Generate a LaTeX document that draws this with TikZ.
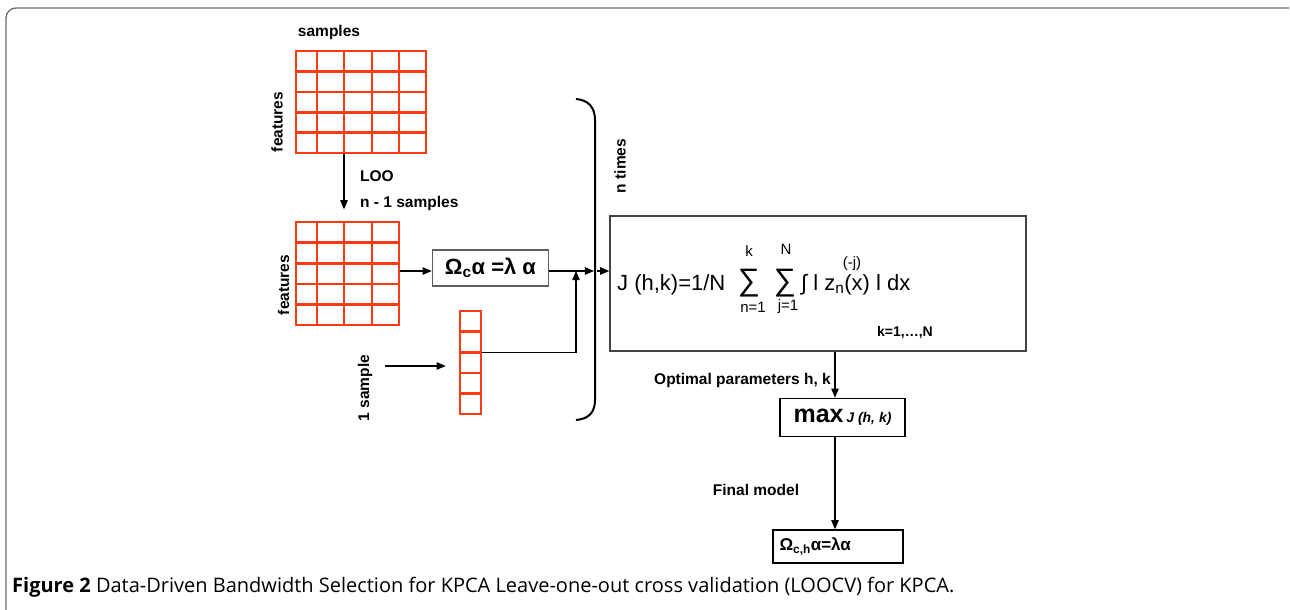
\documentclass[tikz,border=0pt]{standalone}
\usepackage{fontspec}
\setmainfont{Liberation Sans}
\newfontfamily\capfont{Open Sans}
\usetikzlibrary{arrows, positioning}

\definecolor{gridred}{RGB}{250,58,18}
\definecolor{boxgray}{RGB}{95,95,95}
\definecolor{framegray}{RGB}{105,105,105}
\newcommand{\fsize}[1]{\fontsize{#1}{#1}\selectfont}

\begin{document}
\begin{tikzpicture}[x=1pt, y=-1pt]
		\tikzstyle{Cells} = [draw=gridred, line width=2.6pt, inner sep=0pt]
		\tikzstyle{Box} = [rectangle, draw=boxgray, line width=1.5pt, inner sep=0pt]
		\tikzstyle{Label} = [font=\fsize{15.5}\bfseries, inner sep=0pt]
		\tikzstyle{Eq} = [font=\fsize{22}, inner sep=0pt, anchor=base west]
		\tikzstyle{Sum} = [font=\fsize{31}, inner sep=0pt, anchor=base]
		\tikzstyle{Lim} = [font=\fsize{15}, inner sep=0pt]
		\tikzstyle{arrow} = [line width=1.1pt,->,>=triangle 45]

		\useasboundingbox (0,0) rectangle (1290,610);
		\draw [framegray, line width=1.3pt, rounded corners=10pt] (6,612) -- (6,8) -- (1289,8);

		% full data matrix
		\node (data) [Cells, minimum width=130pt, minimum height=102pt] at (361,102) {};
		\foreach \x in {317,344,372,399} \draw [Cells] (\x,51) -- (\x,153);
		\foreach \y in {71.4,91.8,112.2,132.6} \draw [Cells] (296,\y) -- (426,\y);
		\node (samp) [Label] at (329,32) {samples};
		\node (feat1) [Label, rotate=90] at (277,122) {features};

		% n-1 samples
		\node (loo) [Cells, minimum width=103pt, minimum height=103pt] at (347.5,273.5) {};
		\foreach \x in {317,344,372} \draw [Cells] (\x,222) -- (\x,325);
		\foreach \y in {242.6,263.2,283.8,304.4} \draw [Cells] (296,\y) -- (399,\y);
		\node (feat2) [Label, rotate=90] at (283.5,285) {features};
		\node (loolbl) [Label, anchor=west] at (360,176) {LOO};
		\node (nmin) [Label, anchor=west] at (360,203) {n - 1 samples};
		\draw [arrow] ([xshift=-17pt]data.south) -- ++(0,55);

		% left-out sample
		\node (col) [Cells, minimum width=21pt, minimum height=103pt] at (470.5,362.5) {};
		\foreach \y in {331.6,352.2,372.8,393.4} \draw [Cells] (460,\y) -- (481,\y);
		\node (one) [Label, rotate=90] at (365,388) {1 sample};
		\coordinate (s0) at (385,366);
		\draw [arrow, shorten >=13pt] (s0) -- (col.west |- s0);

		\node (omega) [Box, minimum width=116pt, minimum height=36pt, font=\fsize{22}\bfseries] at (490.5,268) {Ω\textsubscript{c}α =λ α};

		\coordinate (row) at (0,271);
		\coordinate (join) at (576,271);
		\coordinate (brace) at (594,271);
		\draw [arrow] (loo.east |- row) -- (omega.west |- row);
		\draw [arrow] (omega.east |- row) -- (brace);
		\draw [arrow] ([yshift=10pt]col.east) -| (join);

		\draw [line width=2pt] (576,99) .. controls (588,100) and (595,107) .. (595,120) -- (595,400) .. controls (595,413) and (588,419) .. (576,420);
		\node (ntimes) [Label, rotate=90] at (620,166) {n times};

		% criterion
		\node (jbox) [Box, draw=boxgray!70!black, minimum width=416pt, minimum height=135pt] at (818,283.5) {};
		\draw [arrow] ([xshift=3pt]brace) -- (jbox.west |- row);
		\node (jhk) [Eq] at (617,290) {J (h,k)=1/N};
		\node (sum1) [Sum] at (749,290) {∑};
		\node (sum1up) [Lim] at (749,251) {k};
		\node (sum1dn) [Lim] at (753,307) {n=1};
		\node (sum2) [Sum] at (785,290) {∑};
		\node (sum2up) [Lim] at (786,249) {N};
		\node (sum2dn) [Lim] at (788,307) {j=1};
		\node (integ) [Eq] at (801,290) {∫ l z\textsubscript{n}(x) l dx};
		\node (loj) [Lim] at (852,264) {(-j)};
		\node (krange) [Label, font=\fsize{14}\bfseries] at (905,333) {k=1,…,N};

		\coordinate (drop) at (835,0);
		\node (max) [Box, draw=black, line width=1.6pt, minimum width=125pt, minimum height=38pt] at (842.5,417.5) {{\fsize{25}\bfseries max} {\fsize{14}\bfseries\itshape J (h, k)}};
		\node (final) [Box, draw=black, minimum width=130pt, minimum height=33pt, text width=117pt, align=left, font=\fsize{17}\bfseries] at (838,546.5) {Ω\textsubscript{c,h}α=λα};
		\draw [arrow] (jbox.south -| drop) -- (max.north -| drop);
		\draw [arrow] (max.south -| drop) -- (final.north -| drop);
		\node (optlbl) [Label, anchor=east] at (831,380) {Optimal parameters h, k};
		\node (finlbl) [Label] at (756,490) {Final model};

		\node (caption) [anchor=base west, inner sep=0pt, font=\capfont\fsize{20}] at (12,592) {\textbf{Figure 2} Data-Driven Bandwidth Selection for KPCA Leave-one-out cross validation (LOOCV) for KPCA.};
\end{tikzpicture}
\end{document}
